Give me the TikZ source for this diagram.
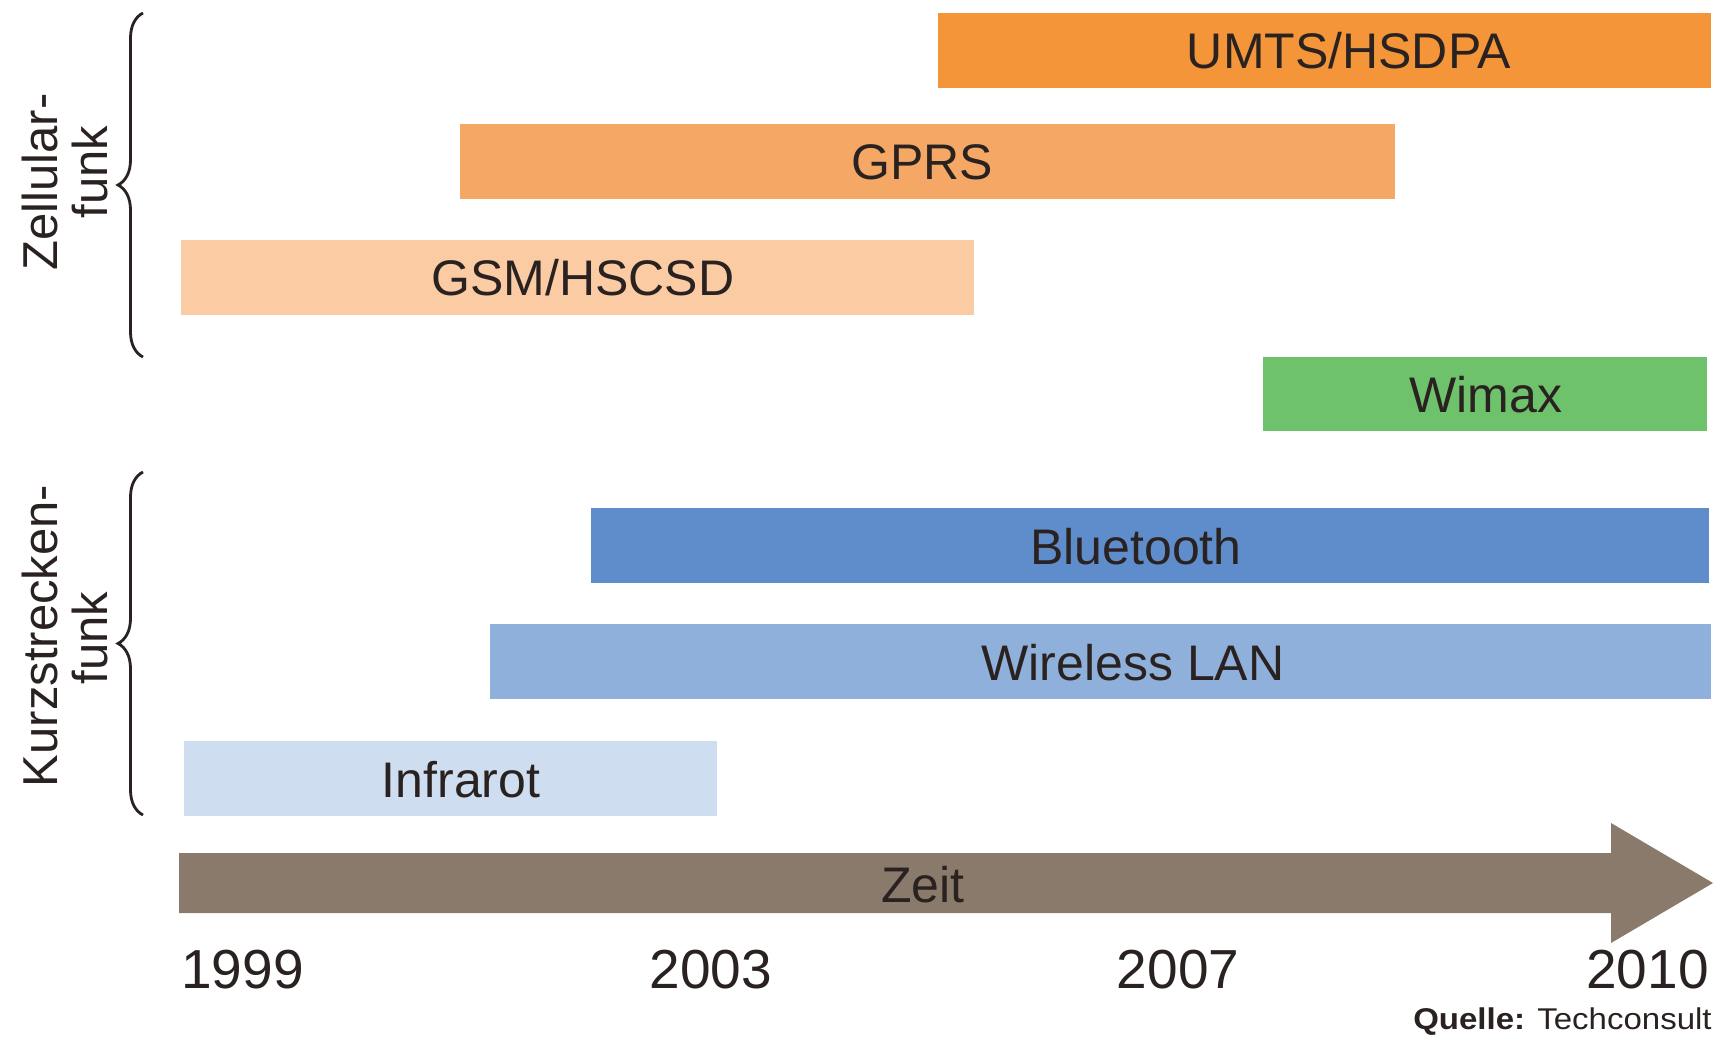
\documentclass[tikz,border=0pt]{standalone}
\usepackage{fontspec}
\setmainfont{Liberation Sans}
\usetikzlibrary{decorations.pathreplacing}
\definecolor{cUmts}{HTML}{F39538}
\definecolor{cGprs}{HTML}{F5A866}
\definecolor{cGsm}{HTML}{FBCCA4}
\definecolor{cWimax}{HTML}{6EC26C}
\definecolor{cBlue}{HTML}{5F8CCA}
\definecolor{cWlan}{HTML}{8EB0DB}
\definecolor{cIr}{HTML}{CFDDF0}
\definecolor{cArrow}{HTML}{8A7A6C}
\definecolor{cText}{HTML}{2A2220}
\tikzset{
  bar/.style={draw=none, inner sep=0pt, outer sep=0pt, minimum height=37.5pt},
  bartext/.style={anchor=base, inner sep=0pt, text=cText, font=\fontsize{25pt}{30pt}\selectfont},
  yeartext/.style={anchor=base, inner sep=0pt, text=cText, font=\fontsize{27.5pt}{33pt}\selectfont},
  grouptext/.style={anchor=base, inner sep=0pt, rotate=90, text=cText, font=\fontsize{24.5pt}{29pt}\selectfont},
  bracestyle/.style={draw=cText, line width=1.4pt, decorate, decoration={brace, amplitude=12.5pt, aspect=0.5}},
}
\begin{document}
\begin{tikzpicture}[x=0.5pt, y=-0.5pt]
\fill[white] (0,0) rectangle (1716,1037);
\useasboundingbox (0,0) rectangle (1716,1037);

% bars
\node[bar, fill=cUmts,  minimum width=386.5pt] (umts) at (1324.5,50.5) {};
\node[bar, fill=cGprs,  minimum width=467.5pt] (gprs) at (927.5,161.5) {};
\node[bar, fill=cGsm,   minimum width=396.5pt] (gsm)  at (577.5,277.5) {};
\node[bar, fill=cWimax, minimum width=222pt, minimum height=37pt] (wimax) at (1485,394) {};
\node[bar, fill=cBlue,  minimum width=559pt]   (bt)   at (1150,545.5) {};
\node[bar, fill=cWlan,  minimum width=610.5pt] (wlan) at (1100.5,661.5) {};
\node[bar, fill=cIr,    minimum width=266.5pt] (ir)   at (450.5,778.5) {};

% bar labels
\node[bartext] (tumts) at (1349,69) {UMTS/HSDPA};
\node[bartext] (tgprs) at (922,180) {GPRS};
\node[bartext] (tgsm)  at (583,296) {GSM/HSCSD};
\node[bartext] (twimax) at (1486,412.5) {Wimax};
\node[bartext] (tbt)   at (1136,564) {Bluetooth};
\node[bartext] (twlan) at (1133,680) {Wireless LAN};
\node[bartext] (tir)   at (461,797) {Infrarot};

% time arrow
\coordinate (a1) at (179,853);
\coordinate (a2) at (1611,853);
\coordinate (a3) at (1611,823);
\coordinate (tip) at (1713,883);
\coordinate (a5) at (1611,943);
\coordinate (a6) at (1611,913);
\coordinate (a7) at (179,913);
\fill[cArrow] (a1) -- (a2) -- (a3) -- (tip) -- (a5) -- (a6) -- (a7) -- cycle;
\node[bartext] (zeit) at (923,902) {Zeit};

% years
\node[yeartext, anchor=base west] (y1999) at (181,988) {1999};
\node[yeartext] (y2003) at (711,988) {2003};
\node[yeartext] (y2007) at (1178,988) {2007};
\node[yeartext, anchor=base east] (y2010) at (1709,988) {2010};

% source
\node[anchor=base east, inner sep=0pt, text=cText, font=\fontsize{15pt}{18pt}\selectfont] (src) at (1712,1029)
  {\scalebox{1.1}[1]{\textbf{Quelle:} Techconsult}};

% group braces
\coordinate (b1s) at (143,357);
\coordinate (b1e) at (143,13);
\draw[bracestyle] (b1s) -- (b1e);
\coordinate (b2s) at (143,815);
\coordinate (b2e) at (143,472);
\draw[bracestyle] (b2s) -- (b2e);

% group labels
\node[grouptext] (zell1) at (57,182) {Zellular-};
\node[grouptext] (zell2) at (107,172) {funk};
\node[grouptext] (kurz1) at (57,636) {Kurzstrecken-};
\node[grouptext] (kurz2) at (107,638) {funk};
\end{tikzpicture}
\end{document}
